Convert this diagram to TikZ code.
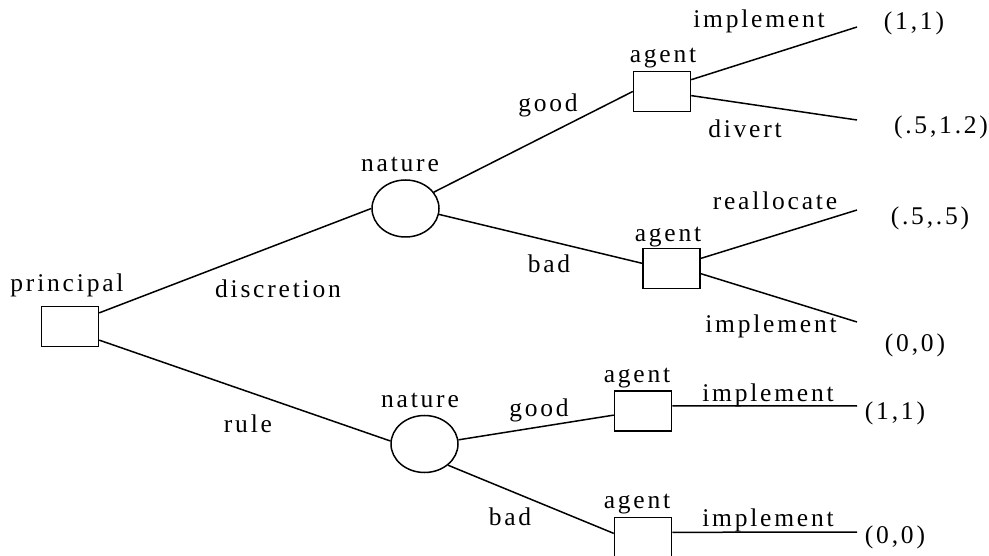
\documentclass[tikz,border=0pt]{standalone}
\usepackage{fontspec}
\setmainfont{Liberation Serif}[LetterSpace=11]
\usetikzlibrary{shapes.geometric}

\begin{document}
\begin{tikzpicture}[
                x = 1pt, y = -1pt,
                player/.style = {draw, line width = 1.5pt, rectangle, inner sep = 0mm, minimum width = 57pt, minimum height = 40pt},
                chance/.style = {draw, line width = 1.5pt, ellipse, inner sep = 0mm, minimum width = 67pt, minimum height = 57pt},
                txt/.style = {anchor = base, inner sep = 0mm, font = \fontsize{25.5}{30}\selectfont},
                edge/.style = {draw, line width = 1.5pt},
            ]
            \clip (0,0) rectangle (989,556);

            \node (pr) [player] at (70,326.5){};
            \node (n1) [chance] at (405.5,208.5){};
            \node (n2) [chance] at (424.5,444){};
            \node (a1) [player] at (662,91.5){};
            \node (a2) [player] at (671.5,268.5){};
            \node (a3) [player] at (643,411){};
            \node (a4) [player] at (643,537.5){};

            \coordinate (e1) at (857,27);
            \coordinate (e2) at (857,120);
            \coordinate (e3) at (857,210);
            \coordinate (e4) at (857,322);
            \coordinate (e5) at (857,406);
            \coordinate (e6) at (857,532);

            % who moves
            \node (prname) [txt] at (67,292){principal};
            \node (n1name) [txt] at (400,172){nature};
            \node (n2name) [txt] at (420,407){nature};
            \node (a1name) [txt] at (663,63){agent};
            \node (a2name) [txt] at (668,242){agent};
            \node (a3name) [txt] at (637,383){agent};
            \node (a4name) [txt] at (637,508){agent};

            % moves
            \node (disc) [txt] at (278,298){discretion};
            \node (rule) [txt] at (248,432){rule};
            \node (good1) [txt] at (548,112){good};
            \node (bad1) [txt] at (549,273){bad};
            \node (good2) [txt] at (539,416){good};
            \node (bad2) [txt] at (510,525){bad};
            \node (impl1) [txt] at (759,28){implement};
            \node (div) [txt] at (745,138){divert};
            \node (realloc) [txt] at (775,210){reallocate};
            \node (impl2) [txt] at (771,333){implement};
            \node (impl3) [txt] at (768,401){implement};
            \node (impl4) [txt] at (768,526){implement};

            % payoffs
            \node (p1) [txt] at (914,30){(1,1)};
            \node (p2) [txt] at (941,134){(.5,1.2)};
            \node (p3) [txt] at (930,225){(.5,.5)};
            \node (p4) [txt] at (915,352){(0,0)};
            \node (p5) [txt] at (895,419){(1,1)};
            \node (p6) [txt] at (895,543){(0,0)};

            \path[edge] (pr.25) -- (n1.west);
            \path[edge] (pr.-25) -- (n2.175);

            \path[edge] (n1.30) -- (a1.west);
            \path[edge] (n1.-10) -- (a2.170);

            \path[edge] (n2.7) -- (a3.188);
            \path[edge] (n2.-42) -- (a4.172);

            \path[edge] (a1.22) -- (e1);
            \path[edge] (a1.-8) -- (e2);
            \path[edge] (a2.19) -- (e3);
            \path[edge] (a2.-10) -- (e4);
            \path[edge] (a3.10) -- (e5);
            \path[edge] (a4.10) -- (e6);
        \end{tikzpicture}
\end{document}
